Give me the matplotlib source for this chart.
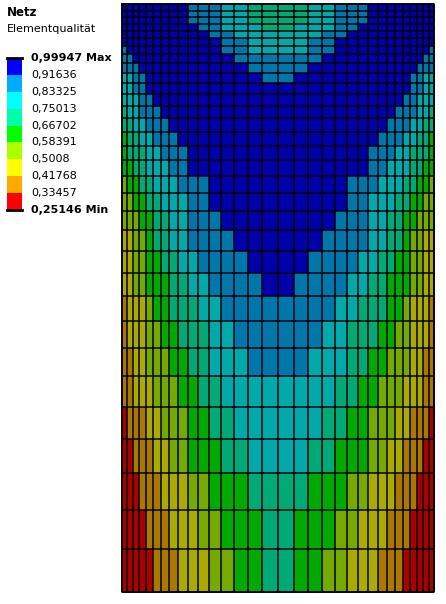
import numpy as np
import matplotlib
matplotlib.use("Agg")
import matplotlib.pyplot as plt
from matplotlib.colors import ListedColormap, BoundaryNorm

# Column widths (left half, mirrored) and row edges, in picture units
half_widths = [5, 6, 6, 7, 7, 8, 8.3, 8.7, 10, 10, 11.3, 11.7, 13, 14, 14, 16.3]
row_edges = [4, 11, 17.3, 24, 31, 38.3, 46, 54, 63, 72.7, 83.3, 94.3, 106, 118.3, 131.7,
             145.7, 160.3, 176, 192.7, 211, 230, 251, 272.7, 296, 320.7, 347.7, 376,
             406.7, 439.3, 473, 510, 549.3, 591.7]

# Quality class per element (0 = lowest/red ... 8 = highest/blue), left half
left_half = [
    [8,8,8,8,8,8,8,8,8,7,7,7,6,6,5,5],
    [8,8,8,8,8,8,8,8,8,7,7,7,6,6,5,5],
    [8,8,8,8,8,8,8,8,8,7,7,7,6,6,5,5],
    [8,8,8,8,8,8,8,8,8,8,7,7,6,6,6,5],
    [8,8,8,8,8,8,8,8,8,8,8,7,7,6,6,6],
    [8,8,8,8,8,8,8,8,8,8,8,8,7,7,6,6],
    [7,8,8,8,8,8,8,8,8,8,8,8,7,7,6,6],
    [7,7,8,8,8,8,8,8,8,8,8,8,8,7,7,7],
    [7,7,7,8,8,8,8,8,8,8,8,8,8,8,7,7],
    [6,6,7,7,8,8,8,8,8,8,8,8,8,8,8,7],
    [6,6,7,7,8,8,8,8,8,8,8,8,8,8,8,8],
    [6,6,6,7,7,8,8,8,8,8,8,8,8,8,8,8],
    [5,6,6,7,7,7,8,8,8,8,8,8,8,8,8,8],
    [5,5,6,6,7,7,7,8,8,8,8,8,8,8,8,8],
    [4,5,5,6,6,7,7,7,8,8,8,8,8,8,8,8],
    [4,5,5,5,6,6,7,7,7,8,8,8,8,8,8,8],
    [4,4,5,5,6,6,6,7,7,8,8,8,8,8,8,8],
    [3,4,4,5,5,6,6,6,7,7,7,8,8,8,8,8],
    [3,3,4,4,5,5,6,6,6,7,7,8,8,8,8,8],
    [3,3,3,4,4,5,5,6,6,7,7,7,8,8,8,8],
    [2,2,3,3,4,5,5,6,6,7,7,7,7,8,8,8],
    [2,2,3,3,4,4,5,5,6,6,7,7,7,7,8,8],
    [2,2,3,3,4,4,4,5,5,6,6,7,7,7,7,8],
    [1,2,2,2,3,4,4,5,5,5,6,6,7,7,7,7],
    [1,2,2,2,3,3,4,4,5,5,5,6,6,7,7,7],
    [1,1,2,2,3,3,3,4,4,5,5,6,6,6,7,7],
    [1,1,2,2,2,3,3,3,4,4,5,5,6,6,6,6],
    [0,1,1,1,2,2,3,3,3,4,4,5,5,6,6,6],
    [0,0,1,1,1,2,2,3,3,4,4,4,5,5,6,6],
    [0,0,0,1,1,1,2,2,2,3,3,4,4,4,5,5],
    [0,0,0,0,1,1,1,2,2,2,3,3,4,4,4,5],
    [0,0,0,0,0,1,1,1,2,2,2,3,3,4,4,5],
]

legend_labels = ["0,99947 Max", "0,91636", "0,83325", "0,75013", "0,66702",
                 "0,58391", "0,5008", "0,41768", "0,33457", "0,25146 Min"]
legend_colors = ["#0000FF", "#00AAFF", "#00FFFF", "#00FFAA", "#00FF00",
                 "#AAFF00", "#FFFF00", "#FFAA00", "#FF0000"]
mesh_colors = ["#AA0000", "#AA7700", "#AAAA00", "#77AA00", "#00AA00",
               "#00AA77", "#00AAAA", "#0077AA", "#0000AA"]

W, H = 446, 604
fig = plt.figure(figsize=(W/100, H/100), dpi=100)
ax = fig.add_axes([0, 0, 1, 1])
ax.set_xlim(0, W)
ax.set_ylim(H, 0)
ax.axis("off")

widths = half_widths + half_widths[::-1]
x0 = 121.7
xe = x0 + np.concatenate([[0], np.cumsum(widths)])
ye = np.array(row_edges)
vals = np.array([r + r[::-1] for r in left_half])

cmap = ListedColormap(mesh_colors)
norm = BoundaryNorm(np.arange(-0.5, 9.5, 1), 9)
ax.pcolormesh(xe, ye, vals, cmap=cmap, norm=norm, edgecolors="none", antialiased=False)
for x in xe:
    ax.plot([x, x], [ye[0], ye[-1]], color="black", lw=1.1, solid_capstyle="butt")
for y in ye:
    ax.plot([xe[0], xe[-1]], [y, y], color="black", lw=1.1, solid_capstyle="butt")
ax.plot([xe[0], xe[-1], xe[-1], xe[0], xe[0]], [ye[0], ye[0], ye[-1], ye[-1], ye[0]],
        color="black", lw=1.2)

# Legend
ax.text(7, 13, "Netz", fontsize=8.5, fontweight="bold", family="DejaVu Sans", va="center")
ax.text(7, 29, "Elementqualität", fontsize=8, family="DejaVu Sans", va="center")
cb_x, cb_w, cb_top, cb_bot = 7, 15, 58, 210
band_h = (cb_bot - cb_top) / len(legend_colors)
for i, c in enumerate(legend_colors):
    ax.add_patch(plt.Rectangle((cb_x, cb_top + i*band_h), cb_w, band_h, facecolor=c, edgecolor="none"))
ax.plot([cb_x, cb_x+cb_w], [cb_top, cb_top], color="black", lw=2)
ax.plot([cb_x, cb_x+cb_w], [cb_bot, cb_bot], color="black", lw=2)
for i, lab in enumerate(legend_labels):
    bold = i in (0, len(legend_labels)-1)
    ax.text(31, cb_top + i*band_h, lab, fontsize=8, va="center", family="DejaVu Sans",
            fontweight="bold" if bold else "normal")

fig.savefig("out.png", dpi=100)
